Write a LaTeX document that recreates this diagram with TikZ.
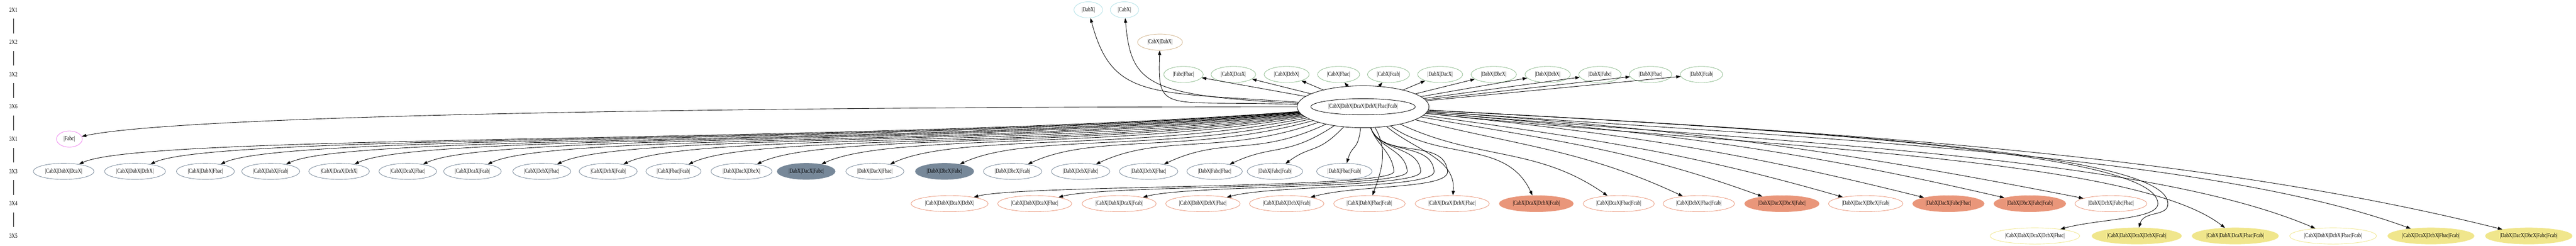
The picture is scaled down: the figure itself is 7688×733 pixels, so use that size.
\documentclass[tikz,border=0pt]{standalone}
\usepackage{fontspec}
\setmainfont{Liberation Serif}[FakeStretch=0.75]
\usetikzlibrary{shapes.geometric,arrows.meta}
\definecolor{powderc}{HTML}{B0E0E6}
\definecolor{tanc}{HTML}{D2B48C}
\definecolor{seagreenc}{HTML}{8FBC8F}
\definecolor{violetc}{HTML}{EE82EE}
\definecolor{slatec}{HTML}{778899}
\definecolor{salmonc}{HTML}{E9967A}
\definecolor{khakic}{HTML}{F0E68C}
\begin{document}
\begin{tikzpicture}[x=0.093451pt,y=0.093451pt,
    font=\fontsize{1.75pt}{2pt}\selectfont,
    rank/.style={minimum height=4.5pt,inner sep=0pt},
    blob/.style={ellipse,draw,line width=0.125pt,minimum height=4.5pt,inner ysep=0.25pt},
    topone/.style={blob,draw=powderc,inner xsep=1pt,minimum width=6.75pt},
    toptwo/.style={blob,draw=tanc,inner xsep=0.94pt},
    oneset/.style={blob,draw=violetc,inner xsep=1pt,minimum width=6.75pt},
    pairset/.style={blob,draw=seagreenc,inner xsep=0.94pt},
    triset/.style={blob,draw=slatec,inner xsep=0.82pt},
    trisetf/.style={triset,fill=slatec},
    quadset/.style={blob,draw=salmonc,inner xsep=0.74pt},
    quadsetf/.style={quadset,fill=salmonc},
    pentset/.style={blob,draw=khakic,inner xsep=0.56pt},
    pentsetf/.style={pentset,fill=khakic},
    fullset/.style={ellipse,draw,line width=0.125pt,minimum width=30.1pt,minimum height=5.5pt},
    link/.style={line width=0.125pt,-{Triangle[length=1.25pt,width=0.875pt]}}]
    \useasboundingbox (0,0) rectangle (7688,733);
    \foreach \r/\y/\lbl in {1/703.6/2X1,2/607.3/2X2,3/511/3X2,4/414.7/3X6,5/318.4/3X1,6/222.1/3X3,7/125.8/3X4,8/29.5/3X5}
        \node[rank] (lab\r) at (40,\y) {\lbl};
    \foreach \a/\b in {1/2,2/3,3/4,4/5,5/6,6/7,7/8}
        \draw[line width=0.125pt] (lab\a) -- (lab\b);
    \node[fullset] (ctr) at (4068,414.7) {|CabX|DabX|DcaX|DcbX|Fbac|Fcab|};
    \draw[line width=0.125pt] (ctr.center) ellipse [x radius=14.56pt,y radius=2.25pt];
    \node[topone] (t1) at (3248,703.6) {|DabX|};
    \node[topone] (t2) at (3356,703.6) {|CabX|};
    \node[toptwo] (t3) at (3462,607.3) {|CabX|DabX|};
    \draw[link] (ctr) to[out=176,in=-75,out distance=42pt,in distance=23.4pt] (t1);
    \draw[link] (ctr) to[out=177,in=-85,out distance=42pt,in distance=18.7pt] (t2);
    \draw[link] (ctr) to[out=178,in=-92,out distance=37.5pt,in distance=18pt] (t3);
    \foreach \n/\x/\lbl in {g1/3532/{|Fabc|Fbac|},g2/3681/{|CabX|DcaX|},g3/3840/{|CabX|DcbX|},
        g4/3995/{|CabX|Fbac|},g5/4144/{|CabX|Fcab|},g6/4298/{|DabX|DacX|},g7/4458/{|DabX|DbcX|},
        g8/4619/{|DabX|DcbX|},g9/4775/{|DabX|Fabc|},g10/4926/{|DabX|Fbac|},g11/5078/{|DabX|Fcab|}}
        \node[pairset] (\n) at (\x,511) {\lbl};
    \foreach \i in {1,...,11}
        \draw[link] (ctr) -- (g\i);
    \node[oneset] (f1) at (207,318.4) {|Fabc|};
    \draw[link] (ctr) to[out=180,in=12,out distance=168.75pt,in distance=27.5pt] (f1);
    \foreach \n/\x/\s/\lbl in {n1/190/triset/{|CabX|DabX|DcaX|},n2/403/triset/{|CabX|DabX|DcbX|},
        n3/613/triset/{|CabX|DabX|Fbac|},n4/808/triset/{|CabX|DabX|Fcab|},n5/1012/triset/{|CabX|DcaX|DcbX|},
        n6/1217/triset/{|CabX|DcaX|Fbac|},n7/1410/triset/{|CabX|DcaX|Fcab|},n8/1617/triset/{|CabX|DcbX|Fbac|},
        n9/1815/triset/{|CabX|DcbX|Fcab|},n10/2010/triset/{|CabX|Fbac|Fcab|},n11/2213/triset/{|DabX|DacX|DbcX|},
        n12/2406/trisetf/{|DabX|DacX|Fabc|},n13/2611/triset/{|DabX|DacX|Fbac|},n14/2819/trisetf/{|DabX|DbcX|Fabc|},
        n15/3022/triset/{|DabX|DbcX|Fcab|},n16/3225/triset/{|DabX|DcbX|Fabc|},n17/3428/triset/{|DabX|DcbX|Fbac|},
        n18/3625/triset/{|DabX|Fabc|Fbac|},n19/3805/triset/{|DabX|Fabc|Fcab|},n20/4012/triset/{|DabX|Fbac|Fcab|}} {
        \node[\s] (\n) at (\x,222.1) {\lbl};
        \pgfmathsetmacro\dx{4068-\x}
        \pgfmathsetmacro\base{atan2(192.6,\dx)}
        \pgfmathsetmacro\aout{180+min(1.5*\base,\base+10)}
        \pgfmathsetmacro\ain{max(25,\base)}
        \pgfmathsetmacro\len{100*veclen(\dx/100,1.926)}
        \pgfmathsetmacro\dout{0.35*0.093451*\len}
        \pgfmathsetmacro\din{0.093451*min(220,0.3*\len)}
        \draw[link] (ctr) to[out=\aout,in=\ain,out distance=\dout pt,in distance=\din pt] (\n);
    }
    \foreach \n/\x/\s/\lbl in {m1/2834/quadset/{|CabX|DabX|DcaX|DcbX|},m2/3088/quadset/{|CabX|DabX|DcaX|Fbac|},
        m3/3340/quadset/{|CabX|DabX|DcaX|Fcab|},m4/3590/quadset/{|CabX|DabX|DcbX|Fbac|},
        m5/3840/quadset/{|CabX|DabX|DcbX|Fcab|},m6/4087/quadset/{|CabX|DabX|Fbac|Fcab|},
        m7/4334/quadset/{|CabX|DcaX|DcbX|Fbac|},m8/4585/quadsetf/{|CabX|DcaX|DcbX|Fcab|},
        m9/4831/quadset/{|CabX|DcaX|Fbac|Fcab|},m10/5070/quadset/{|CabX|DcbX|Fbac|Fcab|},
        m11/5318/quadsetf/{|DabX|DacX|DbcX|Fabc|},m12/5568/quadset/{|DabX|DacX|DbcX|Fcab|},
        m13/5815/quadsetf/{|DabX|DacX|Fabc|Fbac|},m14/6058/quadsetf/{|DabX|DbcX|Fabc|Fcab|},
        m15/6300/quadset/{|DabX|DcbX|Fabc|Fbac|}}
        \node[\s] (\n) at (\x,125.8) {\lbl};
    \foreach \i in {1,...,5}
        \coordinate (w\i) at (4120+40*\i,222.1);
    \foreach \i in {1,...,5}
        \draw[link] (ctr) to[out=-70,in=95] (w\i) to[out=-85,in=15,out distance=5pt,in distance=13.75pt] (m\i);
    \draw[link] (ctr) to[out=-60,in=70] (m6);
    \foreach \i/\aout/\ain in {7/-40/85,8/-35/115,9/-25/145,10/-14/155,11/-10/160,12/-8/164,13/-6/166,14/-5/167,15/-4/169}
        \draw[link] (ctr) to[out=\aout,in=\ain] (m\i);
    \foreach \n/\x/\s/\lbl in {k1/6073/pentset/{|CabX|DabX|DcaX|DcbX|Fbac|},k2/6377/pentsetf/{|CabX|DabX|DcaX|DcbX|Fcab|},
        k3/6671/pentsetf/{|CabX|DabX|DcaX|Fbac|Fcab|},k4/6963/pentset/{|CabX|DabX|DcbX|Fbac|Fcab|},
        k5/7255/pentsetf/{|CabX|DcaX|DcbX|Fbac|Fcab|},k6/7547/pentsetf/{|DabX|DacX|DbcX|Fabc|Fcab|}}
        \node[\s] (\n) at (\x,29.5) {\lbl};
    \coordinate (v1) at (6440,125.8);
    \coordinate (v2) at (6470,125.8);
    \draw[link] (ctr) to[out=-3,in=90,out distance=112.5pt,in distance=13.75pt] (v1) to[out=-90,in=15,out distance=4.4pt,in distance=11.25pt] (k1);
    \draw[link] (ctr) to[out=-3,in=90,out distance=115pt,in distance=13.75pt] (v2) to[out=-90,in=75,out distance=3.75pt,in distance=5pt] (k2);
    \foreach \i/\aout/\ain/\dout/\din in {3/-6/142/88.75/32.75,4/-5/157/98.75/52.5,5/-4/160/110/60,6/-3/166/121.25/84.1}
        \draw[link] (ctr) to[out=\aout,in=\ain,out distance=\dout pt,in distance=\din pt] (k\i);
\end{tikzpicture}
\end{document}
